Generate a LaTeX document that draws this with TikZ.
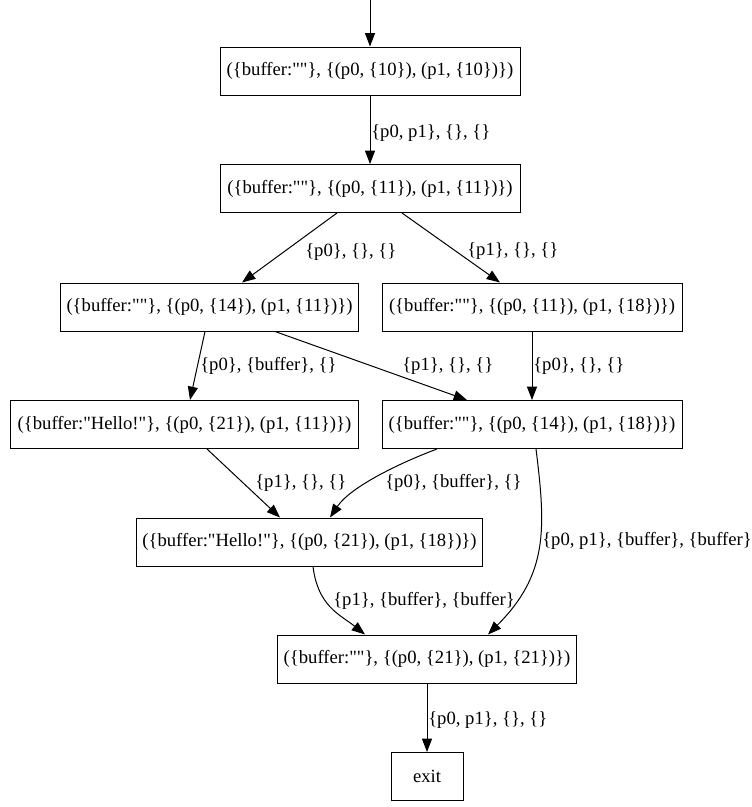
\documentclass[tikz,border=0pt]{standalone}
\usepackage{fontspec}
\setmainfont{Liberation Serif}[Ligatures=TeXOff]
\usetikzlibrary{arrows.meta,calc}
\begin{document}
\begin{tikzpicture}[x=0.75pt,y=-0.75pt,
  font=\fontsize{14}{16}\selectfont,
  state/.style={draw, line width=0.75pt, minimum height=36pt, inner sep=0pt},
  elabel/.style={anchor=west, inner sep=0pt},
  flow/.style={line width=0.75pt, -{Triangle[length=10pt,width=7.5pt]}}]
\useasboundingbox (0,0) rectangle (751,807);

% states
\node[state, minimum width=225pt] (n1) at (370,71)    {(\{buffer:""\}, \{(p0, \{10\}), (p1, \{10\})\})};
\node[state, minimum width=225pt] (n2) at (370,188.5) {(\{buffer:""\}, \{(p0, \{11\}), (p1, \{11\})\})};
\node[state, minimum width=224pt] (n3) at (209.5,307) {(\{buffer:""\}, \{(p0, \{14\}), (p1, \{11\})\})};
\node[state, minimum width=225pt] (n4) at (532,307)   {(\{buffer:""\}, \{(p0, \{11\}), (p1, \{18\})\})};
\node[state, minimum width=261pt] (n5) at (184.5,424.5) {(\{buffer:"Hello!"\}, \{(p0, \{21\}), (p1, \{11\})\})};
\node[state, minimum width=225pt] (n6) at (532,424.5) {(\{buffer:""\}, \{(p0, \{14\}), (p1, \{18\})\})};
\node[state, minimum width=260pt] (n7) at (309.5,542) {(\{buffer:"Hello!"\}, \{(p0, \{21\}), (p1, \{18\})\})};
\node[state, minimum width=224pt] (n8) at (427,659)   {(\{buffer:""\}, \{(p0, \{21\}), (p1, \{21\})\})};
\node[state, minimum width=54pt]  (n9) at (427,776.5) {exit};

\coordinate (entry) at (370,0);

% transitions
\draw[flow] (entry) -- (n1.north);
\draw[flow] (n1.south) -- (n2.north);
\draw[flow] ($(n2.south)+(-33,0)$) -- ($(n3.north)+(32.5,0)$);
\draw[flow] ($(n2.south)+(32,0)$) -- ($(n4.north)+(-32,0)$);
\draw[flow] ($(n3.south)+(-4.5,0)$) -- ($(n5.north)+(5.5,0)$);
\draw[flow] ($(n3.south)+(65.5,0)$) -- ($(n6.north)+(-65,0)$);
\draw[flow] (n4.south) -- (n6.north);
\draw[flow] ($(n5.south)+(22.5,0)$) -- ($(n7.north)+(-29.5,0)$);
\draw[flow] ($(n6.south)+(-95,0)$) .. controls +(-40,15) and +(20,-30) .. ($(n7.north)+(20.5,0)$);
\draw[flow] ($(n6.south)+(4,0)$) .. controls +(10,80) and +(60,-60) .. ($(n8.north)+(61,0)$);
\draw[flow] ($(n7.south)+(3.5,0)$) .. controls +(5,40) and +(-25,-20) .. ($(n8.north)+(-62,0)$);
\draw[flow] (n8.south) -- (n9.north);

% transition labels
\node[elabel] (l1)  at (371,133) {\{p0, p1\}, \{\}, \{\}};
\node[elabel] (l2)  at (305,252) {\{p0\}, \{\}, \{\}};
\node[elabel] (l3)  at (467,251) {\{p1\}, \{\}, \{\}};
\node[elabel] (l4)  at (200,366) {\{p0\}, \{buffer\}, \{\}};
\node[elabel] (l5)  at (402,366) {\{p1\}, \{\}, \{\}};
\node[elabel] (l6)  at (533,366) {\{p0\}, \{\}, \{\}};
\node[elabel] (l7)  at (255,483) {\{p1\}, \{\}, \{\}};
\node[elabel] (l8)  at (385,483) {\{p0\}, \{buffer\}, \{\}};
\node[elabel] (l9)  at (542,541) {\{p0, p1\}, \{buffer\}, \{buffer\}};
\node[elabel] (l10) at (333,601) {\{p1\}, \{buffer\}, \{buffer\}};
\node[elabel] (l11) at (428,720) {\{p0, p1\}, \{\}, \{\}};
\end{tikzpicture}
\end{document}
